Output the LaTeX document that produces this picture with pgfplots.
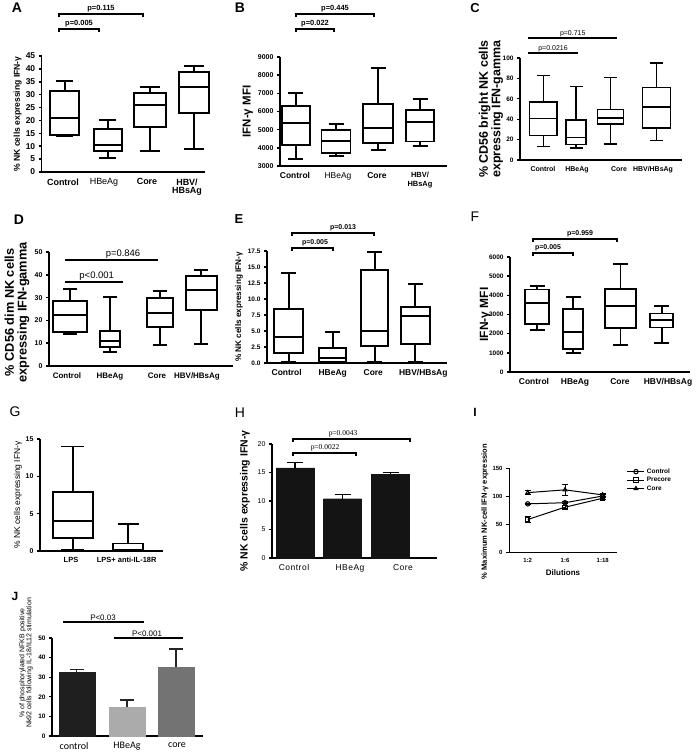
\documentclass[border=0pt]{standalone}
\usepackage{fontspec}
\setmainfont{Liberation Sans}
\newfontfamily\carl{Carlito}
\newfontfamily\lserif{Liberation Serif}
\usepackage{pgfplots}
\pgfplotsset{compat=1.18}
\usepgfplotslibrary{statistics}
\newcommand{\fs}[1]{\fontsize{#1}{#1}\selectfont}
\pgfplotsset{
  gp/.style={scale only axis, anchor=south west,
    axis x line*=bottom, axis y line*=left, tick align=outside,
    xtick style={draw=none}, ytick style={black}, major tick length=3bp,
    clip=false, /pgf/number format/assume math mode=true,
    /pgf/number format/1000 sep={},
    ylabel style={anchor=center, align=center},
    xticklabel style={align=center},
    boxplot/draw direction=y,
  },
  blw/.style={every axis plot/.append style={black, line width=#1},
    boxplot/every box/.style={draw=black, line width=#1},
    boxplot/every whisker/.style={black, line width=#1},
    boxplot/every median/.style={black, line width=#1}},
}
\begin{document}
\begin{tikzpicture}
\path[use as bounding box] (0bp,0bp) rectangle (696bp,-753bp);
% panel letters
\node[font=\bfseries\fs{14}] at (17bp,-8bp) {A};
\node[font=\bfseries\fs{14}] at (240bp,-8bp) {B};
\node[font=\bfseries\fs{13}] at (475bp,-8bp) {C};
\node[font=\bfseries\fs{14}] at (19bp,-220bp) {D};
\node[font=\bfseries\fs{13}] at (239bp,-219bp) {E};
\node[font=\fs{14}] at (475bp,-217bp) {F};
\node[font=\fs{14}] at (15bp,-412bp) {G};
\node[font=\fs{14}] at (240bp,-413bp) {H};
\node[font=\bfseries\fs{12}] at (475bp,-412bp) {I};
\node[font=\bfseries\fs{12}] at (15bp,-596bp) {J};

%% ---------------- A
\begin{axis}[gp, at={(41.7bp,-172bp)}, width=163.3bp, height=116bp,
  xmin=41.7, xmax=205, ymin=0, ymax=45, ytick={0,5,...,45},
  axis line style={line width=1.5bp}, ytick style={line width=1.5bp},
  xtick={63,104,147,187},
  xticklabels={Control,{\mdseries HBeAg},Core,{HBV/\\HBsAg}},
  xticklabel style={font=\bfseries\fs{9}},
  yticklabel style={font=\bfseries\fs{8.5}},
  ylabel={\% NK cells expressing IFN-γ},
  ylabel style={at={(axis description cs:-0.147,0.5)}, font=\bfseries\fs{8.6}},
  blw=2bp]
\addplot[boxplot prepared={draw position=64.7, box extend=29, whisker extend=17, lower whisker=13.8, lower quartile=14.2, median=21, upper quartile=31.5, upper whisker=35.3}] coordinates {};
\addplot[boxplot prepared={draw position=107.5, box extend=28, whisker extend=17, lower whisker=5.5, lower quartile=8, median=10.5, upper quartile=16.8, upper whisker=20}] coordinates {};
\addplot[boxplot prepared={draw position=149.5, box extend=32, whisker extend=20, lower whisker=8, lower quartile=17.5, median=25.8, upper quartile=30.8, upper whisker=33}] coordinates {};
\addplot[boxplot prepared={draw position=194, box extend=30, whisker extend=20, lower whisker=9, lower quartile=22.8, median=33, upper quartile=38.8, upper whisker=41}] coordinates {};
\draw[line width=1.5bp] (axis cs:59,60.1) -- (axis cs:59,61.3) -- (axis cs:143,61.3) -- (axis cs:143,60.1);
\node[font=\bfseries\fs{7.5}, anchor=south, inner sep=1.5bp] at (axis cs:101,61.3) {p=0.115};
\draw[line width=1.5bp] (axis cs:59,54.3) -- (axis cs:59,55.5) -- (axis cs:99,55.5) -- (axis cs:99,54.3);
\node[font=\bfseries\fs{7.5}, anchor=south, inner sep=1.5bp] at (axis cs:79,55.5) {p=0.005};
\end{axis}

%% ---------------- B
\begin{axis}[gp, at={(280bp,-166bp)}, width=167bp, height=109bp,
  xmin=280, xmax=447, ymin=3000, ymax=9000, ytick={3000,4000,...,9000},
  axis line style={line width=1.4bp}, ytick style={line width=1.4bp},
  xtick={295,338,377,420},
  xticklabels={Control,{\mdseries HBeAg},Core,{\fs{7.5}HBV/\\\fs{7.5}HBsAg}},
  xticklabel style={font=\bfseries\fs{8.5}},
  yticklabel style={font=\bfseries\fs{7}},
  ylabel={IFN-γ MFI},
  ylabel style={at={(axis description cs:-0.192,0.5)}, font=\bfseries\fs{11.5}},
  blw=1.8bp]
\addplot[boxplot prepared={draw position=295.8, box extend=28.3, whisker extend=15, lower whisker=3400, lower quartile=4150, median=5350, upper quartile=6300, upper whisker=7000}] coordinates {};
\addplot[boxplot prepared={draw position=336, box extend=29, whisker extend=15, lower whisker=3550, lower quartile=3700, median=4380, upper quartile=5000, upper whisker=5300}] coordinates {};
\addplot[boxplot prepared={draw position=378, box extend=29.3, whisker extend=15, lower whisker=3900, lower quartile=4250, median=5100, upper quartile=6420, upper whisker=8400}] coordinates {};
\addplot[boxplot prepared={draw position=420, box extend=28.3, whisker extend=15, lower whisker=4100, lower quartile=4350, median=5420, upper quartile=6100, upper whisker=6700}] coordinates {};
\draw[line width=1.5bp] (axis cs:296,11200) -- (axis cs:296,11367) -- (axis cs:374,11367) -- (axis cs:374,11200);
\node[font=\bfseries\fs{7.5}, anchor=south, inner sep=1.5bp] at (axis cs:335,11367) {p=0.445};
\draw[line width=1.5bp] (axis cs:296,10377) -- (axis cs:296,10542) -- (axis cs:334,10542) -- (axis cs:334,10377);
\node[font=\bfseries\fs{7.5}, anchor=south, inner sep=1.5bp] at (axis cs:315,10542) {p=0.022};
\end{axis}

%% ---------------- C
\begin{axis}[gp, at={(520bp,-160bp)}, width=162bp, height=102bp,
  xmin=520, xmax=682, ymin=0, ymax=100, ytick={0,20,...,100},
  axis line style={line width=1.3bp}, ytick style={line width=1.3bp},
  xtick={543,577,619,653},
  xticklabels={Control,HBeAg,Core,HBV/HBsAg},
  xticklabel style={font=\bfseries\fs{7}},
  yticklabel style={font=\bfseries\fs{6.5}},
  ylabel={\% CD56 bright NK cells\\expressing IFN-gamma},
  ylabel style={at={(axis description cs:-0.18,0.5)}, font=\bfseries\fs{12.5}},
  blw=1.5bp]
\addplot[boxplot prepared={draw position=543.3, box extend=27.3, whisker extend=13, lower whisker=13, lower quartile=24, median=40.5, upper quartile=57, upper whisker=83}] coordinates {};
\addplot[boxplot prepared={draw position=576, box extend=20, whisker extend=13, lower whisker=12, lower quartile=15, median=22, upper quartile=39, upper whisker=72}] coordinates {};
\addplot[boxplot prepared={draw position=610.3, box extend=26, whisker extend=13, lower whisker=15.5, lower quartile=35.5, median=41, upper quartile=49.5, upper whisker=81}] coordinates {};
\addplot[boxplot prepared={draw position=656.7, box extend=28, whisker extend=13, lower whisker=19, lower quartile=31.5, median=52, upper quartile=71, upper whisker=95}] coordinates {};
\draw[line width=1.2bp] (axis cs:528,119.6) -- (axis cs:617,119.6);
\node[font=\fs{7}, anchor=south, inner sep=1bp] at (axis cs:572.7,119.6) {p=0.715};
\draw[line width=1.2bp] (axis cs:528,104.9) -- (axis cs:578,104.9);
\node[font=\fs{7}, anchor=south, inner sep=1bp] at (axis cs:553,104.9) {p=0.0216};
\end{axis}

%% ---------------- D
\begin{axis}[gp, at={(49bp,-366bp)}, width=184bp, height=114bp,
  xmin=49, xmax=233, ymin=0, ymax=50, ytick={0,10,...,50},
  axis line style={line width=1.5bp}, ytick style={line width=1.5bp},
  xtick={67,110,157,197},
  xticklabels={Control,HBeAg,Core,HBV/HBsAg},
  xticklabel style={font=\bfseries\fs{8}},
  yticklabel style={font=\bfseries\fs{7}},
  ylabel={\% CD56 dim NK cells\\expressing IFN-gamma},
  ylabel style={at={(axis description cs:-0.174,0.47)}, font=\bfseries\fs{12.8}},
  blw=2bp]
\addplot[boxplot prepared={draw position=70.3, box extend=34, whisker extend=14, lower whisker=14.2, lower quartile=15, median=22.5, upper quartile=28.5, upper whisker=33.8}] coordinates {};
\addplot[boxplot prepared={draw position=110, box extend=20, whisker extend=14, lower whisker=6, lower quartile=8.5, median=11, upper quartile=15.5, upper whisker=30.3}] coordinates {};
\addplot[boxplot prepared={draw position=159.7, box extend=26, whisker extend=14, lower whisker=9, lower quartile=17.2, median=23.2, upper quartile=30, upper whisker=33}] coordinates {};
\addplot[boxplot prepared={draw position=201.3, box extend=30.7, whisker extend=14, lower whisker=9.5, lower quartile=24.5, median=33.5, upper quartile=39.5, upper whisker=42}] coordinates {};
\draw[line width=2.3bp] (axis cs:65,46.5) -- (axis cs:158,46.5);
\node[font=\fs{9.5}, anchor=south, inner sep=1.5bp] at (axis cs:123,46.5) {p=0.846};
\draw[line width=2.3bp] (axis cs:65,36.8) -- (axis cs:123,36.8);
\node[font=\fs{9.5}, anchor=south, inner sep=1.5bp] at (axis cs:96.7,36.8) {p<0.001};
\end{axis}

%% ---------------- E
\begin{axis}[gp, at={(267bp,-363bp)}, width=180bp, height=112bp,
  xmin=267, xmax=447, ymin=0, ymax=17.5, ytick={0,2.5,...,17.5},
  axis line style={line width=1.5bp}, ytick style={line width=1.5bp},
  xtick={286.7,332.7,373.3,423.3},
  xticklabels={Control,HBeAg,Core,HBV/HBsAg},
  xticklabel style={font=\bfseries\fs{8.5}},
  yticklabel style={font=\bfseries\fs{6.5}, /pgf/number format/.cd, fixed, fixed zerofill, precision=1},
  ylabel={\% NK cells expressing IFN-γ},
  ylabel style={at={(axis description cs:-0.156,0.5)}, font=\bfseries\fs{8.2}},
  blw=1.9bp]
\addplot[boxplot prepared={draw position=288.8, box extend=29, whisker extend=15, lower whisker=0.1, lower quartile=1.5, median=4, upper quartile=8.5, upper whisker=14}] coordinates {};
\addplot[boxplot prepared={draw position=332.7, box extend=26.7, whisker extend=15, lower whisker=0, lower quartile=0.2, median=0.8, upper quartile=2.4, upper whisker=4.9}] coordinates {};
\addplot[boxplot prepared={draw position=374.7, box extend=27.3, whisker extend=15, lower whisker=0.1, lower quartile=2.6, median=5, upper quartile=14.5, upper whisker=17.3}] coordinates {};
\addplot[boxplot prepared={draw position=415.3, box extend=29.3, whisker extend=15, lower whisker=0.2, lower quartile=2.9, median=7.4, upper quartile=8.8, upper whisker=12.4}] coordinates {};
\draw[line width=1.5bp] (axis cs:292,19.83) -- (axis cs:292,20.3) -- (axis cs:374,20.3) -- (axis cs:374,19.83);
\node[font=\bfseries\fs{7}, anchor=south, inner sep=1.5bp] at (axis cs:343,20.3) {p=0.013};
\draw[line width=1.5bp] (axis cs:292,17.53) -- (axis cs:292,18.0) -- (axis cs:333,18.0) -- (axis cs:333,17.53);
\node[font=\bfseries\fs{7}, anchor=south, inner sep=1.5bp] at (axis cs:315,18.0) {p=0.005};
\end{axis}

%% ---------------- F
\begin{axis}[gp, at={(510bp,-372bp)}, width=180bp, height=115bp,
  xmin=510, xmax=690, ymin=0, ymax=6000, ytick={0,1000,...,6000},
  axis line style={line width=1.4bp}, ytick style={line width=1.4bp},
  xtick={534,575,620,668},
  xticklabels={Control,HBeAg,Core,HBV/HBsAg},
  xticklabel style={font=\bfseries\fs{8.5}},
  yticklabel style={font=\bfseries\fs{6.5}},
  ylabel={IFN-γ MFI},
  ylabel style={at={(axis description cs:-0.137,0.5)}, font=\bfseries\fs{12}},
  blw=1.8bp]
\addplot[boxplot prepared={draw position=537, box extend=24.3, whisker extend=15, lower whisker=2200, lower quartile=2500, median=3600, upper quartile=4300, upper whisker=4500}] coordinates {};
\addplot[boxplot prepared={draw position=573.3, box extend=20, whisker extend=15, lower whisker=1000, lower quartile=1200, median=2100, upper quartile=3280, upper whisker=3900}] coordinates {};
\addplot[boxplot prepared={draw position=620.5, box extend=31, whisker extend=15, lower whisker=1400, lower quartile=2300, median=3450, upper quartile=4330, upper whisker=5650}] coordinates {};
\addplot[boxplot prepared={draw position=661.7, box extend=23.3, whisker extend=15, lower whisker=1500, lower quartile=2320, median=2700, upper quartile=3050, upper whisker=3450}] coordinates {};
\draw[line width=1.5bp] (axis cs:533,6782) -- (axis cs:533,6939) -- (axis cs:617,6939) -- (axis cs:617,6782);
\node[font=\bfseries\fs{7}, anchor=south, inner sep=1.5bp] at (axis cs:580,6939) {p=0.959};
\draw[line width=1.5bp] (axis cs:533,6052) -- (axis cs:533,6209) -- (axis cs:573,6209) -- (axis cs:573,6052);
\node[font=\bfseries\fs{7}, anchor=south, inner sep=1.5bp] at (axis cs:548,6209) {p=0.005};
\end{axis}

%% ---------------- G
\begin{axis}[gp, at={(40bp,-551bp)}, width=123bp, height=112bp,
  xmin=40, xmax=163, ymin=0, ymax=15, ytick={0,5,10,15},
  axis line style={line width=1.5bp}, ytick style={line width=1.5bp},
  xtick={71,126.7},
  xticklabels={LPS,LPS+ anti-IL-18R},
  xticklabel style={font=\bfseries\fs{7.5}},
  yticklabel style={font=\bfseries\fs{7}},
  ylabel={\% NK cells expressing IFN-γ},
  ylabel style={at={(axis description cs:-0.179,0.5)}, font=\fs{8.5}},
  blw=1.9bp]
\addplot[boxplot prepared={draw position=72.7, box extend=40, whisker extend=23, lower whisker=0.2, lower quartile=1.8, median=4, upper quartile=7.9, upper whisker=14}] coordinates {};
\addplot[boxplot prepared={draw position=128, box extend=30.7, whisker extend=21, lower whisker=0, lower quartile=0.1, median=0.2, upper quartile=1.0, upper whisker=3.6}] coordinates {};
\end{axis}

%% ---------------- H
\begin{axis}[gp, at={(272bp,-558bp)}, width=165bp, height=114bp,
  xmin=272, xmax=437, ymin=0, ymax=20, ytick={0,5,...,20},
  axis line style={line width=1.3bp}, ytick style={line width=1.3bp},
  xtick={294,350,403},
  xticklabels={Control,HBeAg,Core},
  xticklabel style={font=\fs{8.5}\addfontfeature{LetterSpace=6}},
  yticklabel style={font=\fs{7}},
  ylabel={\% NK cells expressing IFN-γ},
  ylabel style={at={(axis description cs:-0.164,0.5)}, font=\bfseries\fs{10.5}}]
\addplot[ybar, bar width=38, bar shift=0pt, fill=black!92, draw=black!92,
  error bars/.cd, y dir=plus, y explicit,
  error bar style={line width=1.3bp, black},
  error mark options={line width=1.3bp, black, mark size=8bp, rotate=90}]
  coordinates {(295,15.8) +- (0,1.0) (342.5,10.4) +- (0,0.8) (390.5,14.7) +- (0,0.3)};
\draw[line width=1.3bp] (axis cs:293,20.34) -- (axis cs:293,20.87) -- (axis cs:410,20.87) -- (axis cs:410,20.34);
\node[font=\lserif\fs{7.5}, anchor=south, inner sep=1.5bp] at (axis cs:343,20.87) {p=0.0043};
\draw[line width=1.3bp] (axis cs:293,17.89) -- (axis cs:293,18.42) -- (axis cs:356,18.42) -- (axis cs:356,17.89);
\node[font=\lserif\fs{7.5}, anchor=south, inner sep=1.5bp] at (axis cs:325,18.42) {p=0.0022};
\end{axis}

%% ---------------- I
\begin{axis}[gp, at={(509bp,-552bp)}, width=108bp, height=84bp,
  xmin=509, xmax=617, ymin=0, ymax=150, ytick={0,50,100,150},
  axis line style={line width=1bp}, ytick style={line width=1bp},
  xtick style={black, line width=1bp},
  xtick={527.7,565,602.7},
  xticklabels={1:2,1:6,1:18},
  xticklabel style={font=\bfseries\fs{6}},
  yticklabel style={font=\bfseries\fs{6}},
  xlabel={Dilutions}, xlabel style={font=\bfseries\fs{8}},
  ylabel={\% Maximum NK-cell IFN-γ expression},
  ylabel style={at={(axis description cs:-0.222,0.48)}, font=\bfseries\fs{7.6}},
  legend style={at={(1.09,1.02)}, anchor=north west, draw=none, fill=none,
    font=\bfseries\fs{6.5}, row sep=-1.5bp, inner sep=0pt},
  legend cell align=left,
  every axis plot/.append style={black, line width=1bp, mark size=2.2bp,
    mark options={solid, fill=white},
    error bars/y dir=both, error bars/y explicit,
    error bars/error mark options={line width=0.9bp, mark size=3bp, rotate=90}}]
\addplot+[black, mark=o] coordinates {(527.7,86) +- (0,1) (565,88) +- (0,2) (602.7,100) +- (0,2)};
\addlegendentry{Control}
\addplot+[black, mark=square] coordinates {(527.7,58) +- (0,5) (565,80) +- (0,3) (602.7,96) +- (0,3)};
\addlegendentry{Precore}
\addplot+[black, mark=triangle] coordinates {(527.7,106) +- (0,4) (565,111) +- (0,10) (602.7,102) +- (0,3)};
\addlegendentry{Core}
\end{axis}

%% ---------------- J
\begin{axis}[gp, at={(52bp,-736bp)}, width=151bp, height=98bp,
  xmin=52, xmax=203, ymin=0, ymax=50, ytick={0,10,...,50},
  axis line style={line width=1.3bp}, ytick style={line width=1.3bp},
  xtick={74,127,177},
  xticklabels={control,HBeAg,core},
  xticklabel style={font=\carl\fs{10}},
  yticklabel style={font=\bfseries\fs{6.5}},
  ylabel={\% of phosphorylated NFKB positive\\Nk92 cells following IL-18/IL12 stimulation},
  ylabel style={at={(axis description cs:-0.172,0.745)}, font=\fs{7}},
  every axis plot/.append style={ybar, bar width=36, bar shift=0pt,
    error bars/y dir=plus, error bars/y explicit,
    error bars/error bar style={line width=1.4bp, black!85},
    error bars/error mark options={line width=1.4bp, black!85, mark size=7bp, rotate=90}}]
\addplot[fill=black!88, draw=black!88] coordinates {(76.7,32.5) +- (0,1.3)};
\addplot[fill=black!33, draw=black!33] coordinates {(127,14.7) +- (0,3.6)};
\addplot[fill=black!55, draw=black!55] coordinates {(176,35.2) +- (0,9.1)};
\draw[line width=1.3bp] (axis cs:63,58.2) -- (axis cs:144,58.2);
\node[font=\fs{8}, anchor=south, inner sep=1.5bp] at (axis cs:103,58.2) {P<0.03};
\draw[line width=1.9bp] (axis cs:114,50) -- (axis cs:183,50);
\node[font=\fs{8}, anchor=south, inner sep=1.5bp] at (axis cs:147,50) {P<0.001};
\end{axis}
\end{tikzpicture}
\end{document}
